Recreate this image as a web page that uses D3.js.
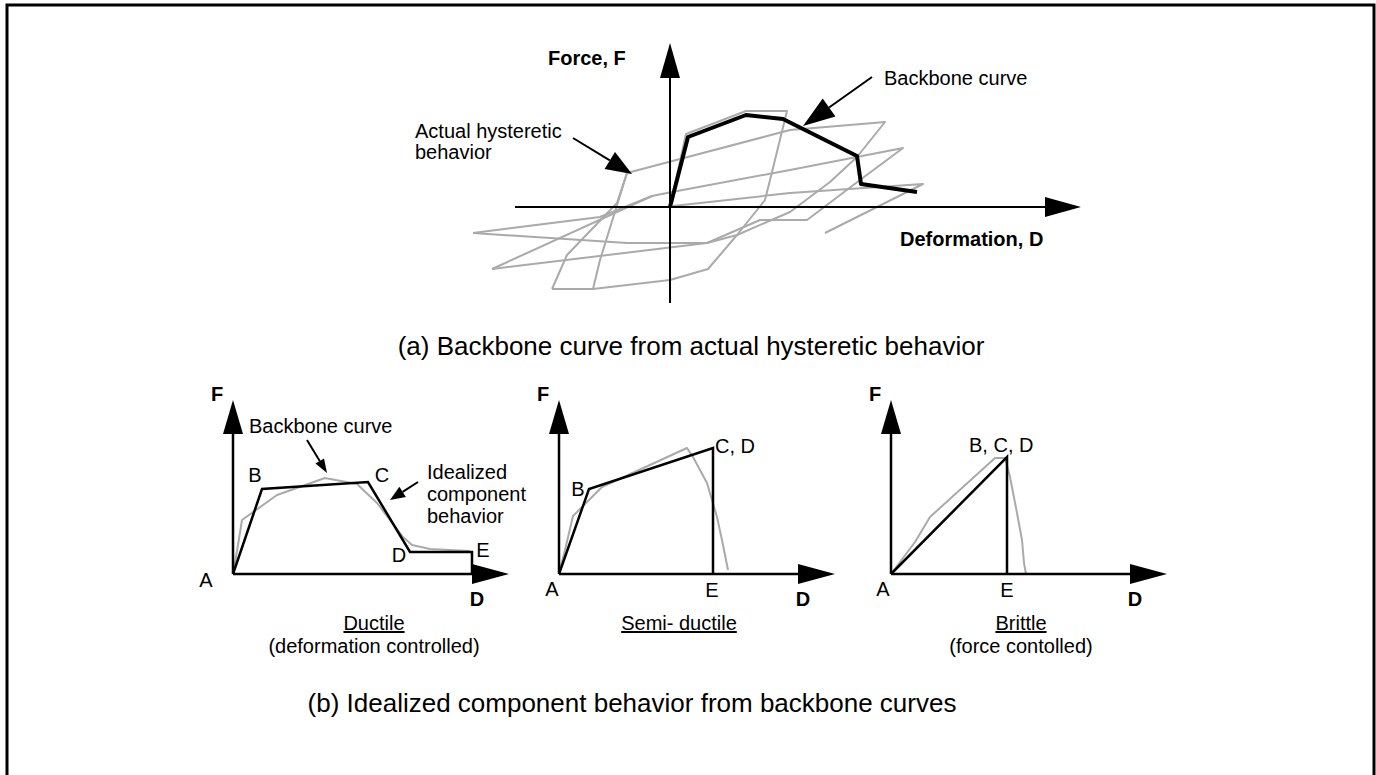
<!DOCTYPE html>
<html>
<head>
<meta charset="utf-8">
<script src="https://cdn.jsdelivr.net/npm/d3@7"></script>
<style>
body { margin: 0; background: #fff; }
text { font-family: "Liberation Sans", Arial, sans-serif; fill: #000; }
</style>
</head>
<body>
<script>
// ---- data: points are [deformation, force] measured from each panel's origin ----
var topBackbone = [[0,0],[18,70],[76,92],[113,88],[187,51],[191,23],[247,15]];
var hysteresis = [
  [[0,0],[16,73],[76,96],[117,96],[103,39],[95,7],[67,-28],[38,-62],[0,-73],[-77,-82],[-118,-82]],
  [[-77,-82],[-70,-53],[-43,34],[120,77],[215,85],[187,50],[160,25],[120,-5],[67,-28],[37,-36],[-43,-36],[-197,-26]],
  [[-118,-82],[-103,-48],[-53,4],[-43,34]],
  [[-178,-62],[-18,11],[2,15],[120,37],[233,59],[190,27],[137,-13],[90,-13],[37,-36]],
  [[-178,-62],[37,-36]],
  [[-197,-26],[-70,-10],[-18,11]],
  [[3,1],[120,14],[253,23],[155,-26]]
];

var ductileIdeal = [[0,0],[29,85],[135,92],[177,22],[239,22],[239,0]];
var ductileBackbone = [[0,0],[5,29],[9,54],[44,79],[92,96],[124,90],[144,71],[170,37],[179,29],[197,25],[237,23]];
var semiIdeal = [[0,0],[30,85],[154,126],[154,0]];
var semiBackbone = [[0,0],[6,24],[14,58],[43,87],[128,126],[134,117],[148,91],[158,57],[163,34],[169,4]];
var brittleIdeal = [[0,0],[116,117],[116,0]];
var brittleBackbone = [[0,0],[24,32],[39,57],[104,116],[114,116],[119,97],[126,61],[131,34],[133,11],[135,0]];

// point labels: [text, x offset from origin, baseline y, anchor]
var ductileLabels = [["A", -27, 587, "middle"], ["B", 22, 482, "middle"], ["C", 149, 482, "middle"],
                     ["D", 166, 562, "middle"], ["E", 250, 557, "middle"]];
var semiLabels = [["A", -7, 596, "middle"], ["B", 19, 496, "middle"], ["C, D", 156, 453, "start"],
                  ["E", 153, 597, "middle"]];
var brittleLabels = [["A", -8, 596, "middle"], ["B, C, D", 78, 452, "start"], ["E", 116, 597, "middle"]];

var panels = [
  {name: "ductile", ox: 233, ideal: ductileIdeal, backbone: ductileBackbone,
   caption: ["Ductile", "(deformation controlled)"], capX: 374, pts: ductileLabels},
  {name: "semi", ox: 559, ideal: semiIdeal, backbone: semiBackbone,
   caption: ["Semi- ductile"], capX: 679, pts: semiLabels},
  {name: "brittle", ox: 891, ideal: brittleIdeal, backbone: brittleBackbone,
   caption: ["Brittle", "(force contolled)"], capX: 1021, pts: brittleLabels}
];

var W = 1376, H = 775;
var svg = d3.select("body").append("svg")
    .attr("width", W)
    .attr("height", H);

// frame
svg.append("rect")
    .attr("x", 7).attr("y", 5)
    .attr("width", 1367).attr("height", 800)
    .attr("fill", "none").attr("stroke", "#000").attr("stroke-width", 3);

var line = d3.line();

// filled triangle pointing from 'from' to 'tip'
function arrowHead(g, tip, from, len, half) {
    var dx = tip[0] - from[0], dy = tip[1] - from[1];
    var d = Math.sqrt(dx * dx + dy * dy);
    var ux = dx / d, uy = dy / d;
    var bx = tip[0] - ux * len, by = tip[1] - uy * len;
    g.append("path")
        .attr("d", line([tip, [bx - uy * half, by + ux * half], [bx + uy * half, by - ux * half]]) + "Z")
        .attr("fill", "#000");
    return [bx, by];
}
function arrow(g, from, tip, len, half, sw) {
    var base = arrowHead(g, tip, from, len, half);
    g.append("path").attr("d", line([from, base]))
        .attr("stroke", "#000").attr("stroke-width", sw).attr("fill", "none");
}

// ---- (a) top panel ----
var xTop = d3.scaleLinear().domain([-200, 411]).range([470, 1081]);
var yTop = d3.scaleLinear().domain([-96, 164]).range([303, 43]);
var lineTop = d3.line().x(function (d) { return xTop(d[0]); }).y(function (d) { return yTop(d[1]); });

var gTop = svg.append("g");
gTop.append("g").selectAll("path")
    .data(hysteresis)
    .enter().append("path")
    .attr("d", lineTop)
    .attr("fill", "none")
    .attr("stroke", "#aaaaaa")
    .attr("stroke-width", 2)
    .attr("stroke-linejoin", "round");

// axes
gTop.append("path").attr("d", line([[xTop(-155), yTop(0)], [xTop(375), yTop(0)]]))
    .attr("stroke", "#000").attr("stroke-width", 2);
arrowHead(gTop, [xTop(411), yTop(0)], [xTop(0), yTop(0)], 36, 10);
gTop.append("path").attr("d", line([[xTop(0), yTop(-96)], [xTop(0), yTop(130)]]))
    .attr("stroke", "#000").attr("stroke-width", 2);
arrowHead(gTop, [xTop(0), yTop(164)], [xTop(0), yTop(0)], 35, 10);

gTop.append("path")
    .attr("d", lineTop(topBackbone))
    .attr("fill", "none")
    .attr("stroke", "#000")
    .attr("stroke-width", 4)
    .attr("stroke-linejoin", "round");

gTop.append("text").attr("x", 548).attr("y", 65)
    .attr("font-size", 20).attr("font-weight", "bold").text("Force, F");
gTop.append("text").attr("x", 900).attr("y", 246)
    .attr("font-size", 20).attr("font-weight", "bold").text("Deformation, D");
gTop.append("text").attr("x", 884).attr("y", 85)
    .attr("font-size", 20).text("Backbone curve");
gTop.append("text").attr("x", 415).attr("y", 138)
    .attr("font-size", 20).text("Actual hysteretic");
gTop.append("text").attr("x", 415).attr("y", 159)
    .attr("font-size", 20).text("behavior");
arrow(gTop, [573, 138], [632, 174], 26, 10, 2);
arrow(gTop, [872, 77], [803, 126], 32, 11, 2);

svg.append("text").attr("x", 691).attr("y", 355)
    .attr("text-anchor", "middle").attr("font-size", 26)
    .text("(a) Backbone curve from actual hysteretic behavior");

// ---- (b) bottom panels ----
var yBot = d3.scaleLinear().domain([0, 174]).range([574, 400]);

panels.forEach(function (p) {
    var x = d3.scaleLinear().domain([0, 276]).range([p.ox, p.ox + 276]);
    var lp = d3.line().x(function (d) { return x(d[0]); }).y(function (d) { return yBot(d[1]); });
    var g = svg.append("g").attr("class", p.name);

    g.append("path").attr("d", lp(p.backbone))
        .attr("fill", "none").attr("stroke", "#aaaaaa").attr("stroke-width", 2)
        .attr("stroke-linejoin", "round");

    g.append("path").attr("d", line([[x(0), yBot(0)], [x(0), yBot(140)]]))
        .attr("stroke", "#000").attr("stroke-width", 2.5);
    arrowHead(g, [x(0), yBot(174)], [x(0), yBot(0)], 34, 10);
    g.append("path").attr("d", line([[x(0), yBot(0)], [x(240), yBot(0)]]))
        .attr("stroke", "#000").attr("stroke-width", 2.5);
    arrowHead(g, [x(276), yBot(0)], [x(0), yBot(0)], 37, 10);

    g.append("path").attr("d", lp(p.ideal))
        .attr("fill", "none").attr("stroke", "#000").attr("stroke-width", 2.5)
        .attr("stroke-linejoin", "miter");

    g.append("text").attr("x", x(0) - 16).attr("y", 401)
        .attr("text-anchor", "middle").attr("font-size", 20).attr("font-weight", "bold").text("F");
    g.append("text").attr("x", x(244)).attr("y", 606)
        .attr("text-anchor", "middle").attr("font-size", 20).attr("font-weight", "bold").text("D");

    g.selectAll("text.pt")
        .data(p.pts)
        .enter().append("text")
        .attr("class", "pt")
        .attr("x", function (d) { return x(d[1]); })
        .attr("y", function (d) { return d[2]; })
        .attr("text-anchor", function (d) { return d[3]; })
        .attr("font-size", 20)
        .text(function (d) { return d[0]; });

    g.append("text").attr("x", p.capX).attr("y", 630)
        .attr("text-anchor", "middle").attr("font-size", 20)
        .style("text-decoration", "underline")
        .text(p.caption[0]);
    if (p.caption[1]) {
        g.append("text").attr("x", p.capX).attr("y", 653)
            .attr("text-anchor", "middle").attr("font-size", 20)
            .text(p.caption[1]);
    }
});

// ductile panel annotations
var gd = svg.select("g.ductile");
gd.append("text").attr("x", 249).attr("y", 433).attr("font-size", 20).text("Backbone curve");
arrow(gd, [307, 440], [327, 473], 14, 5, 2);
gd.append("text").attr("x", 427).attr("y", 479).attr("font-size", 20).text("Idealized");
gd.append("text").attr("x", 427).attr("y", 501).attr("font-size", 20).text("component");
gd.append("text").attr("x", 427).attr("y", 523).attr("font-size", 20).text("behavior");
arrow(gd, [418, 482], [390, 500], 15, 6, 2);

svg.append("text").attr("x", 632).attr("y", 712)
    .attr("text-anchor", "middle").attr("font-size", 26)
    .text("(b) Idealized component behavior from backbone curves");
</script>
</body>
</html>
